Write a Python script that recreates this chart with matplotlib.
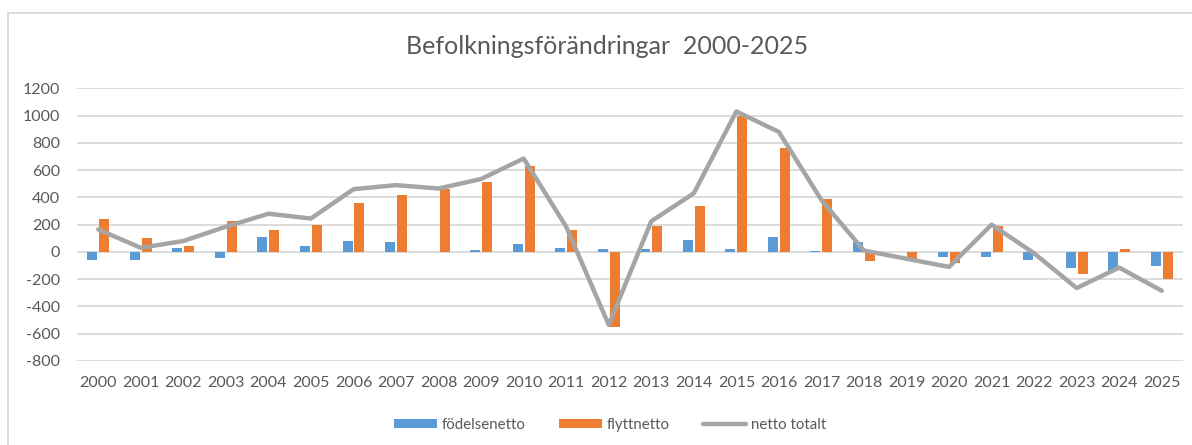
import matplotlib
matplotlib.use("Agg")
import matplotlib.pyplot as plt
import numpy as np
from matplotlib.patches import Rectangle

years = [str(y) for y in range(2000, 2026)]
fodelsenetto = [-60, -60, 30, -45, 110, 45, 80, 75, 0, 15, 60, 30, 20, 20, 90, 25,
                110, 10, 75, 0, -35, -40, -60, -120, -140, -105]
flyttnetto = [240, 100, 45, 230, 160, 195, 360, 420, 460, 515, 630, 160, -550, 190,
              340, 1000, 760, 385, -65, -50, -80, 190, 0, -165, 20, -195]
netto_totalt = [165, 30, 80, 185, 280, 245, 460, 490, 465, 535, 685, 185, -535, 225,
                430, 1030, 880, 380, 10, -50, -110, 200, -10, -265, -115, -285]
yticks = list(range(-800, 1201, 200))

plt.rcParams['font.family'] = ['Lato', 'DejaVu Sans']
TXT = '#595959'
W, H = 1192, 445
fig = plt.figure(figsize=(W / 100, H / 100), dpi=100)

left, right, top, bottom = 77, 1183, 88.3, 361
ax = fig.add_axes([left / W, 1 - bottom / H, (right - left) / W, (bottom - top) / H])

x = np.arange(len(years))
bw = 0.235
b1 = ax.bar(x - 0.14, fodelsenetto, width=bw, color='#5B9BD5', label='födelsenetto', zorder=3)
b2 = ax.bar(x + 0.14, flyttnetto, width=bw, color='#ED7D31', label='flyttnetto', zorder=3)
l1, = ax.plot(x, netto_totalt, color='#A5A5A5', lw=3.2, solid_joinstyle='round',
              solid_capstyle='round', label='netto totalt', zorder=4)

ax.set_xlim(-0.5, len(years) - 0.5)
ax.set_ylim(-800, 1200)
ax.set_yticks(yticks)
ax.set_yticklabels([str(v) for v in yticks])
ax.set_xticks(x)
ax.set_xticklabels(years)
ax.grid(axis='y', color='#D9D9D9', lw=1.3, zorder=0)
ax.set_axisbelow(True)
for s in ax.spines.values():
    s.set_visible(False)
ax.tick_params(axis='both', length=0, colors=TXT, labelsize=11.5)
ax.tick_params(axis='y', pad=12)
ax.tick_params(axis='x', pad=11)

fig.text(607 / W, 1 - 47 / H, 'Befolkningsförändringar  2000-2025', ha='center', va='center',
         fontsize=18, color=TXT)

leg = fig.legend([b1, b2, l1], ['födelsenetto', 'flyttnetto', 'netto totalt'],
                 loc='center', bbox_to_anchor=(610 / W, 1 - 425 / H), ncol=3, frameon=False,
                 fontsize=10.8, handlelength=2.9, handleheight=0.55, handletextpad=0.3,
                 columnspacing=2.2, labelcolor=TXT)

fig.patches.append(Rectangle((8 / W, -0.05), 1.2, 1 - 13 / H + 0.05, transform=fig.transFigure,
                             fill=False, edgecolor='#D9D9D9', lw=1.3))

fig.savefig('out.png', dpi=100)
